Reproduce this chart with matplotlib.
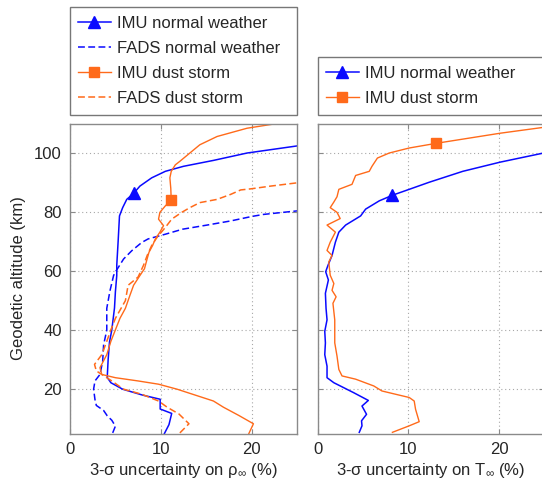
import matplotlib
matplotlib.use("Agg")
import matplotlib.pyplot as plt

plt.rcParams['font.family'] = ['Liberation Sans', 'DejaVu Sans']
plt.rcParams['mathtext.fontset'] = 'custom'
plt.rcParams['mathtext.rm'] = 'Liberation Sans'
plt.rcParams['mathtext.it'] = 'Liberation Sans:italic'

BLUE = '#0a0aff'
ORANGE = '#ff6a1a'
TEXT = '#262626'
SPINE = '#8a8a8a'

# ---- density uncertainty (%) vs geodetic altitude (km) ----
rho_imu_normal_alt = [5, 8, 11.8, 13.3, 16.6, 18, 20, 22.2, 24, 30, 36, 40, 47.5, 53,
                      58.5, 62, 70, 78.7, 81.5, 84.3, 86.3, 88.8, 91.6, 93.8, 95.5,
                      97.5, 100, 102.4, 102.8]
rho_imu_normal = [10.4, 10.9, 11.2, 9.93, 9.93, 8.0, 5.8, 4.5, 4.1, 4.2, 4.35, 4.6, 4.9,
                  5.0, 5.15, 5.15, 5.3, 5.45, 5.8, 6.25, 7.0, 7.7, 9.0, 10.5, 12.5,
                  15.8, 19.5, 25.0, 26.0]
rho_imu_normal_mark = 20

rho_fads_normal_alt = [5.2, 7.5, 9.5, 11, 12.8, 14.5, 16.5, 20, 22.8, 25, 29.5, 35, 40,
                       47.4, 53.3, 58.5, 59.7, 61.4, 64.1, 66.9, 69.7, 70.9, 72.5, 74.2,
                       75.6, 77, 78.5, 79.2, 80.4, 80.6]
rho_fads_normal = [4.7, 5.0, 4.6, 4.1, 3.7, 2.9, 2.75, 2.6, 2.75, 3.3, 3.6, 3.7, 4.05,
                   4.05, 4.4, 4.8, 5.0, 5.35, 5.9, 6.8, 7.9, 8.6, 10.5, 12.4, 15.1,
                   17.7, 20.0, 21.3, 25.0, 26.0]

rho_imu_dust_alt = [5, 8.3, 11.1, 13.9, 16.0, 17.8, 20, 21.7, 22.8, 23.9, 25, 27.3, 31.7,
                    36.2, 40.1, 44, 47.4, 51.8, 55.2, 58.5, 60.8, 64.2, 66.4, 68.7, 70.9,
                    73.2, 75.4, 77.6, 79.9, 82.1, 84.0, 88, 91.6, 93.8, 96, 97.2, 100,
                    102.8, 105.6, 108.4, 109.8, 110.5]
rho_imu_dust = [19.7, 20.2, 18.6, 16.9, 15.8, 14.0, 11.8, 9.75, 7.5, 5.0, 3.5, 3.3, 4.05,
                4.5, 5.0, 5.5, 6.1, 6.6, 7.0, 7.7, 8.2, 8.5, 8.7, 9.1, 9.4, 9.9, 10.3,
                9.75, 9.9, 10.5, 11.15, 11.1, 11.0, 11.15, 11.6, 12.1, 13.2, 14.3, 16.2,
                19.5, 22.4, 24.0]
rho_imu_dust_mark = 30

rho_fads_dust_alt = [5.2, 8.3, 11.6, 13.9, 16.0, 18.3, 20, 22.8, 25, 26.2, 28.4, 31.7,
                     36.2, 40.1, 44.0, 50.0, 55.2, 58, 62, 65.3, 68.7, 71.5, 74.8, 77.6,
                     79.9, 81.5, 83.2, 84.3, 86.0, 87.5, 87.9, 88.8, 89.9, 90.2]
rho_fads_dust = [12.1, 13.1, 12.0, 10.7, 9.75, 7.9, 5.9, 4.6, 3.5, 2.9, 2.7, 3.5, 4.05,
                 4.5, 5.0, 6.1, 6.4, 7.5, 8.1, 8.5, 9.0, 9.6, 10.5, 11.2, 12.3, 13.2,
                 14.3, 16.2, 17.7, 18.8, 20.0, 22.1, 25.0, 26.0]

# ---- temperature uncertainty (%) vs geodetic altitude (km) ----
t_imu_normal_alt = [5.4, 7.6, 9.3, 11.5, 14.3, 16.2, 18.8, 20.5, 22.2, 23.9, 27.8, 31.7,
                    35.7, 39.6, 43.5, 47.4, 52.5, 57, 59.8, 62, 65.3, 69.8, 73.2, 75.6,
                    78.7, 81, 83.8, 85.7, 87.7, 90.1, 93.8, 96.9, 100, 100.6]
t_imu_normal = [4.6, 4.9, 4.85, 5.4, 4.9, 5.6, 4.0, 2.9, 1.8, 1.05, 1.05, 0.8, 0.87, 0.8,
                1.05, 0.94, 0.87, 1.2, 0.9, 1.16, 1.6, 1.97, 2.35, 3.1, 4.75, 5.3, 6.8,
                8.25, 10.1, 12.3, 16.0, 20.1, 24.9, 26.0]
t_imu_normal_mark = 27

t_imu_dust_alt = [5.4, 7.6, 9.0, 13.2, 16.0, 17.2, 18.0, 19.4, 21.1, 23.4, 24.5, 26.7,
                  31.2, 35.7, 39.6, 43.5, 49.1, 51.3, 53.5, 55.8, 58.6, 63.1, 65.3, 67,
                  69.8, 73.2, 75.6, 77.8, 79.9, 81.5, 83.4, 85.2, 87.7, 89.4, 92.4, 93.8,
                  95.5, 98.3, 100, 101.7, 103.3, 106.7, 108.7, 109.0]
t_imu_dust = [8.25, 10.1, 11.2, 10.8, 10.65, 10.1, 9.0, 7.1, 6.2, 4.2, 2.7, 2.35, 2.15,
              1.9, 1.9, 1.9, 1.7, 2.05, 1.6, 1.8, 1.4, 1.24, 1.6, 1.05, 1.4, 1.97, 1.05,
              2.5, 2.15, 1.4, 1.8, 2.15, 2.35, 3.8, 4.2, 5.7, 6.0, 6.6, 7.9, 10.1, 13.1,
              20.1, 24.9, 26.0]
t_imu_dust_mark = 40

x_ticks = [0, 10, 20]
y_ticks = [20, 40, 60, 80, 100]

fig = plt.figure(figsize=(5.42, 4.84), dpi=100)
W, H = 542.0, 484.0
ax_rho = fig.add_axes([70 / W, 1 - 433.5 / H, 227 / W, 310 / H])
ax_t = fig.add_axes([317.5 / W, 1 - 433.5 / H, 227 / W, 310 / H])

lw = 1.1
dash = (4.5, 2.2)

h1, = ax_rho.plot(rho_imu_normal, rho_imu_normal_alt, color=BLUE, lw=lw, marker='^',
                  markersize=8, markevery=[rho_imu_normal_mark], label='IMU normal weather')
h2, = ax_rho.plot(rho_fads_normal, rho_fads_normal_alt, color=BLUE, lw=lw,
                  dashes=dash, label='FADS normal weather')
h3, = ax_rho.plot(rho_imu_dust, rho_imu_dust_alt, color=ORANGE, lw=1.0, marker='s',
                  markersize=7, markevery=[rho_imu_dust_mark], label='IMU dust storm')
h4, = ax_rho.plot(rho_fads_dust, rho_fads_dust_alt, color=ORANGE, lw=lw,
                  dashes=dash, label='FADS dust storm')

g1, = ax_t.plot(t_imu_normal, t_imu_normal_alt, color=BLUE, lw=lw, marker='^',
                markersize=8, markevery=[t_imu_normal_mark], label='IMU normal weather')
g2, = ax_t.plot(t_imu_dust, t_imu_dust_alt, color=ORANGE, lw=1.0, marker='s',
                markersize=7, markevery=[t_imu_dust_mark], label='IMU dust storm')

for ax in (ax_rho, ax_t):
    ax.set_xlim(0, 25)
    ax.set_ylim(5, 110)
    ax.set_xticks(x_ticks)
    ax.set_yticks(y_ticks)
    ax.grid(True, color='#a8a8a8', linestyle=(0, (1, 2.5)), linewidth=0.8)
    ax.set_axisbelow(True)
    ax.tick_params(direction='in', top=True, right=True, length=3.5, width=0.8,
                   color=SPINE, labelcolor=TEXT, labelsize=12, pad=6)
    for s in ax.spines.values():
        s.set_color(SPINE)
        s.set_linewidth(1.0)

ax_t.tick_params(labelleft=False)
ax_rho.set_ylabel('Geodetic altitude (km)', fontsize=12, color=TEXT, labelpad=6)
ax_rho.set_xlabel('3-σ uncertainty on $\\mathregular{\\rho_{\\infty}}$ (%)',
                  fontsize=12, color=TEXT, labelpad=3)
ax_t.set_xlabel('3-σ uncertainty on $\\mathregular{T_{\\infty}}$ (%)',
                fontsize=12, color=TEXT, labelpad=3)

leg_kw = dict(loc='upper left', mode='expand', borderaxespad=0, fancybox=False,
              fontsize=12, handlelength=1.95, handletextpad=0.4, borderpad=0.52,
              labelspacing=0.6, numpoints=1, labelcolor=TEXT)
leg1 = fig.legend(handles=[h1, h2, h3, h4],
                  bbox_to_anchor=(69.5 / W, 1 - 114 / H, 227 / W, 106.7 / H), **leg_kw)
leg2 = fig.legend(handles=[g1, g2],
                  bbox_to_anchor=(317.5 / W, 1 - 113 / H, 227 / W, 55.7 / H), **leg_kw)
for lg in (leg1, leg2):
    fr = lg.get_frame()
    fr.set_edgecolor('#555555')
    fr.set_linewidth(1.0)

fig.savefig('out.png', dpi=100)
